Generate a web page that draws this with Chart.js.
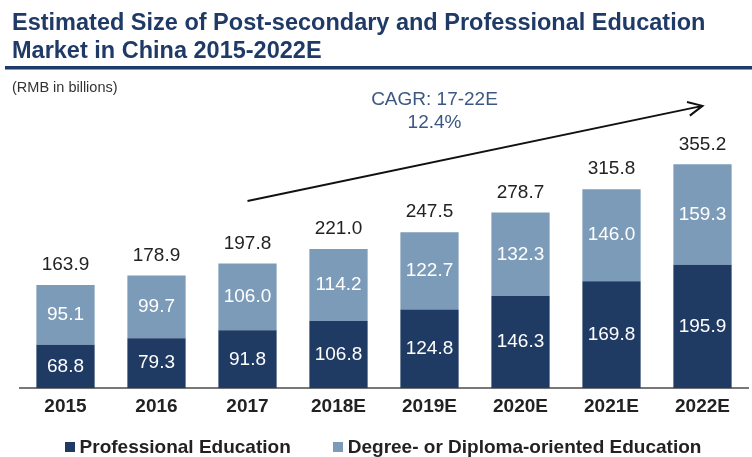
<!DOCTYPE html>
<html>
<head>
<meta charset="utf-8">
<script src="https://cdn.jsdelivr.net/npm/chart.js@4.4.0/dist/chart.umd.min.js"></script>
<style>
  body { margin: 0; background: #fff; font-family: "Liberation Sans", Arial, sans-serif; }
  #wrap { position: relative; width: 752px; height: 457px; overflow: hidden; }
  #title { position: absolute; left: 12px; top: 8px; font-size: 23.5px; font-weight: bold; line-height: 28px; color: #1f3a66; white-space: nowrap; }
  #rule { position: absolute; left: 5px; right: 0; top: 66px; height: 3px; background: #1f3a66; border-bottom: 1px solid #8a9bb0; }
  #unit { position: absolute; left: 12px; top: 79px; font-size: 14.5px; color: #333; }
  canvas { position: absolute; left: 0; top: 0; }
  #legend { position: absolute; left: 0; right: 0; top: 435px; display: flex; justify-content: center; padding-left: 14px; }
  .item { display: flex; align-items: center; margin: 0 21px; font-size: 19px; font-weight: bold; color: #222; line-height: 24px; }
  .box { width: 10px; height: 10px; margin-right: 5px; }
</style>
</head>
<body>
<div id="wrap">
  <canvas id="chart" width="752" height="457"></canvas>
  <div id="title">Estimated Size of Post-secondary and Professional Education<br>Market in China 2015-2022E</div>
  <div id="rule"></div>
  <div id="unit">(RMB in billions)</div>
  <div id="legend"></div>
</div>
<script>
// Données du graphique
const years = ['2015', '2016', '2017', '2018E', '2019E', '2020E', '2021E', '2022E'];
const professional = [68.8, 79.3, 91.8, 106.8, 124.8, 146.3, 169.8, 195.9];
const degree = [95.1, 99.7, 106.0, 114.2, 122.7, 132.3, 146.0, 159.3];
const totals = [163.9, 178.9, 197.8, 221.0, 247.5, 278.7, 315.8, 355.2];

const darkBlue = '#1f3a63';
const lightBlue = '#7b9bb8';

// Étiquettes des valeurs + flèche CAGR
const labelsPlugin = {
    id: 'valueLabels',
    afterDatasetsDraw(chart) {
        const ctx = chart.ctx;
        ctx.save();
        ctx.font = '19px "Liberation Sans", Arial, sans-serif';
        ctx.textAlign = 'center';
        ctx.textBaseline = 'middle';
        chart.data.datasets.forEach((ds, i) => {
            chart.getDatasetMeta(i).data.forEach((bar, j) => {
                ctx.fillStyle = '#fff';
                ctx.fillText(ds.data[j].toFixed(1), bar.x, (bar.y + bar.base) / 2);
                if (i === chart.data.datasets.length - 1) {
                    ctx.fillStyle = '#222';
                    ctx.fillText(totals[j].toFixed(1), bar.x, bar.y - 20);
                }
            });
        });

        // flèche de 2017 à 2022E
        const x = chart.scales.x, y = chart.scales.y;
        const x0 = x.getPixelForValue(2), y0 = y.getPixelForValue(297);
        const x1 = x.getPixelForValue(7), y1 = y.getPixelForValue(448);
        ctx.strokeStyle = '#111';
        ctx.lineWidth = 2;
        ctx.beginPath();
        ctx.moveTo(x0, y0);
        ctx.lineTo(x1, y1);
        const ang = Math.atan2(y1 - y0, x1 - x0);
        ctx.moveTo(x1 - 16 * Math.cos(ang - 0.45), y1 - 16 * Math.sin(ang - 0.45));
        ctx.lineTo(x1, y1);
        ctx.lineTo(x1 - 16 * Math.cos(ang + 0.45), y1 - 16 * Math.sin(ang + 0.45));
        ctx.stroke();

        ctx.fillStyle = '#3b5884';
        ctx.font = '19px "Liberation Sans", Arial, sans-serif';
        const cx = x.getPixelForValue(4) + 5;
        ctx.fillText('CAGR: 17-22E', cx, 100);
        ctx.fillText('12.4%', cx, 123);
        ctx.restore();
    }
};

const chart = new Chart(document.getElementById('chart').getContext('2d'), {
    type: 'bar',
    data: {
        labels: years,
        datasets: [
            {
                label: 'Professional Education',
                data: professional,
                backgroundColor: darkBlue,
                categoryPercentage: 1,
                barPercentage: 0.64
            },
            {
                label: 'Degree- or Diploma-oriented Education',
                data: degree,
                backgroundColor: lightBlue,
                categoryPercentage: 1,
                barPercentage: 0.64
            }
        ]
    },
    options: {
        responsive: false,
        animation: false,
        layout: { padding: { left: 20, right: 4, top: 92, bottom: 32 } },
        plugins: {
            title: { display: false },
            tooltip: { enabled: false },
            legend: { display: false }
        },
        scales: {
            x: {
                stacked: true,
                grid: { display: false, drawTicks: false },
                border: { display: true, color: '#777', width: 2 },
                ticks: {
                    color: '#222',
                    padding: 7,
                    font: { family: '"Liberation Sans", Arial, sans-serif', size: 19, weight: 'bold' }
                }
            },
            y: {
                stacked: true,
                display: false,
                min: 0,
                max: 470
            }
        }
    },
    plugins: [labelsPlugin]
});

// Légende HTML construite à partir des datasets
const legend = document.getElementById('legend');
chart.data.datasets.forEach(ds => {
    const item = document.createElement('div');
    item.className = 'item';
    const box = document.createElement('span');
    box.className = 'box';
    box.style.background = ds.backgroundColor;
    item.appendChild(box);
    item.appendChild(document.createTextNode(ds.label));
    legend.appendChild(item);
});
</script>
</body>
</html>
